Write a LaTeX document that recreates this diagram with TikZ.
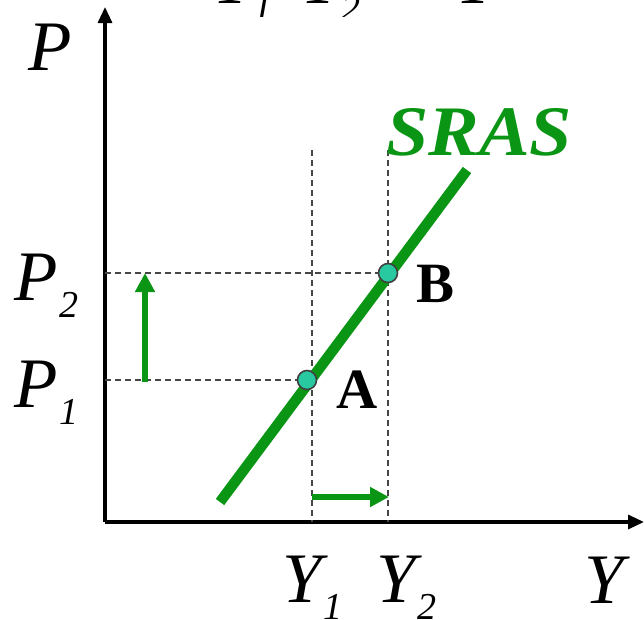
\documentclass[tikz,border=0pt]{standalone}
\usepackage{fontspec}
\setmainfont{Liberation Serif}
\usetikzlibrary{arrows.meta}
\definecolor{srasgreen}{RGB}{10,150,20}
\definecolor{dotfill}{RGB}{40,200,160}
\definecolor{dashgray}{RGB}{70,70,70}
\newcommand{\subsc}[1]{\kern2pt\raisebox{-17pt}{\fontsize{38}{44}\selectfont #1}}
\begin{document}
\begin{tikzpicture}[x=1pt,y=-1pt,
  axis/.style={line width=3.2pt,black,-{Triangle[length=16pt,width=14pt]}},
  guide/.style={line width=1.6pt,dashgray,dash pattern=on 6pt off 4pt},
  curve/.style={line width=10.5pt,srasgreen},
  shiftarrow/.style={line width=5.5pt,srasgreen,-{Triangle[length=19pt,width=19pt]}},
  dot/.style={circle,draw=black!75,line width=1.6pt,fill=dotfill,minimum size=19pt,inner sep=0pt},
  varlbl/.style={font=\fontsize{71}{80}\selectfont\itshape,inner sep=0pt,anchor=base west},
  ptlbl/.style={font=\fontsize{57}{64}\selectfont\bfseries,inner sep=0pt,anchor=base west},
  sraslbl/.style={font=\fontsize{71}{80}\selectfont\bfseries\itshape,text=srasgreen,inner sep=0pt,anchor=base west}
]
\useasboundingbox (0,0) rectangle (644,619);

% clipped fragments of labels at the top edge
\begin{scope}
\clip (0,0) rectangle (644,16);
\node[varlbl] (tY1) at (212,3) {Y\subsc{1}};
\node[varlbl] (tY2) at (300,3) {Y\subsc{2}};
\node[varlbl] (tY) at (455,3) {Y};
\end{scope}

% axes
\coordinate (O) at (105,522);
\coordinate (ytop) at (105,7);
\coordinate (xend) at (644,522);
\draw[axis] (O) -- (ytop);
\draw[axis] (O) -- (xend);

% points
\coordinate (Apos) at (307,380);
\coordinate (Bpos) at (388,273);

% guides
\coordinate (P1y) at (105,380);
\coordinate (P2y) at (105,273);
\coordinate (Y1top) at (312,150);
\coordinate (Y1bot) at (312,522);
\coordinate (Y2top) at (388,150);
\coordinate (Y2bot) at (388,522);
\draw[guide] (P1y) -- (Apos);
\draw[guide] (P2y) -- (Bpos);
\draw[guide] (Y1top) -- (Y1bot);
\draw[guide] (Y2top) -- (Y2bot);

% SRAS curve
\coordinate (s1) at (220,502);
\coordinate (s2) at (467,170);
\draw[curve] (s1) -- (s2);

\node[dot] (A) at (Apos) {};
\node[dot] (B) at (Bpos) {};

% shift arrows
\coordinate (ua1) at (145,382);
\coordinate (ua2) at (145,273);
\draw[shiftarrow] (ua1) -- (ua2);
\coordinate (ra1) at (312,497);
\coordinate (ra2) at (389,497);
\draw[shiftarrow] (ra1) -- (ra2);

% labels
\node[varlbl] (Plbl) at (28,70) {P};
\node[varlbl] (P2lbl) at (14,300) {P\subsc{2}};
\node[varlbl] (P1lbl) at (14,407) {P\subsc{1}};
\node[varlbl] (Y1lbl) at (282,602) {Y\subsc{1}};
\node[varlbl] (Y2lbl) at (376,602) {Y\subsc{2}};
\node[varlbl] (Ylbl) at (584,603) {Y};
\node[ptlbl] (Albl) at (336,408) {A};
\node[ptlbl] (Blbl) at (416,302) {B};
\node[sraslbl] (srasl) at (386,155) {\scalebox{1.07}[1]{SRAS}};
\end{tikzpicture}
\end{document}
